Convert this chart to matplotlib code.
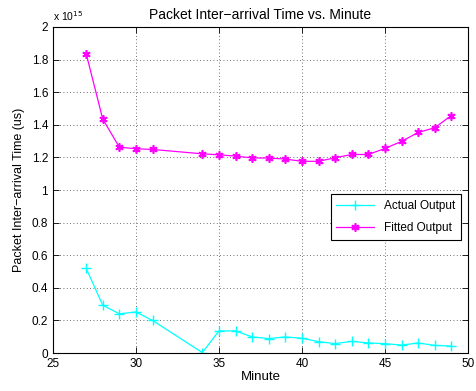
import matplotlib
matplotlib.use("Agg")
import matplotlib.pyplot as plt
from matplotlib.ticker import FuncFormatter, MultipleLocator

plt.rcParams['font.family'] = ['Liberation Sans', 'DejaVu Sans']

minutes = [27, 28, 29, 30, 31, 34, 35, 36, 37, 38, 39, 40, 41, 42, 43, 44, 45, 46, 47, 48, 49]
actual = [0.520, 0.293, 0.241, 0.252, 0.200, 0.003, 0.136, 0.136, 0.099, 0.089, 0.099, 0.091,
          0.070, 0.058, 0.072, 0.062, 0.058, 0.049, 0.062, 0.047, 0.043]
fitted = [1.837, 1.435, 1.263, 1.253, 1.249, 1.222, 1.216, 1.208, 1.197, 1.196, 1.190, 1.176,
          1.176, 1.198, 1.218, 1.218, 1.255, 1.298, 1.353, 1.382, 1.457]
scale = 1e15
actual_v = [a * scale for a in actual]
fitted_v = [f * scale for f in fitted]

fig = plt.figure(figsize=(4.77, 3.91), dpi=100)
ax = fig.add_axes([0.111, 0.097, 0.870, 0.834])

ax.plot(minutes, actual_v, color='#00FFFF', marker='+', markersize=7, linewidth=0.9,
        markeredgewidth=1.0, label='Actual Output')
ax.plot(minutes, fitted_v, color='#FF00FF', marker=(6, 2, 0), markersize=6, linewidth=0.9,
        markeredgewidth=1.2, label='Fitted Output')

ax.set_xlim(25, 50)
ax.set_ylim(0, 2e15)
ax.xaxis.set_major_locator(MultipleLocator(5))
ax.yaxis.set_major_locator(MultipleLocator(0.2e15))
ax.yaxis.set_major_formatter(FuncFormatter(lambda v, p: '%g' % round(v / scale, 3)))

ax.grid(True, linestyle=(0, (1, 3)), color='#404040', linewidth=0.6)
ax.tick_params(direction='in', top=True, right=True, labelsize=8.5, length=4, width=0.6)
for s in ax.spines.values():
    s.set_linewidth(0.8)

ax.set_title('Packet Inter\u2212arrival Time vs. Minute', fontsize=10, pad=6)
ax.set_xlabel('Minute', fontsize=9.5, labelpad=1)
ax.set_ylabel('Packet Inter\u2212arrival Time (us)', fontsize=9, labelpad=5)
ax.text(0.0, 1.012, 'x 10$^{15}$', transform=ax.transAxes, fontsize=7.5, ha='left', va='bottom')

leg = ax.legend(loc='lower right', bbox_to_anchor=(0.997, 0.33), fontsize=8.5, fancybox=False,
                framealpha=1, edgecolor='black', handlelength=3.2, borderpad=0.5, labelspacing=0.8)
leg.get_frame().set_linewidth(0.8)

fig.savefig('out.png', dpi=100)
